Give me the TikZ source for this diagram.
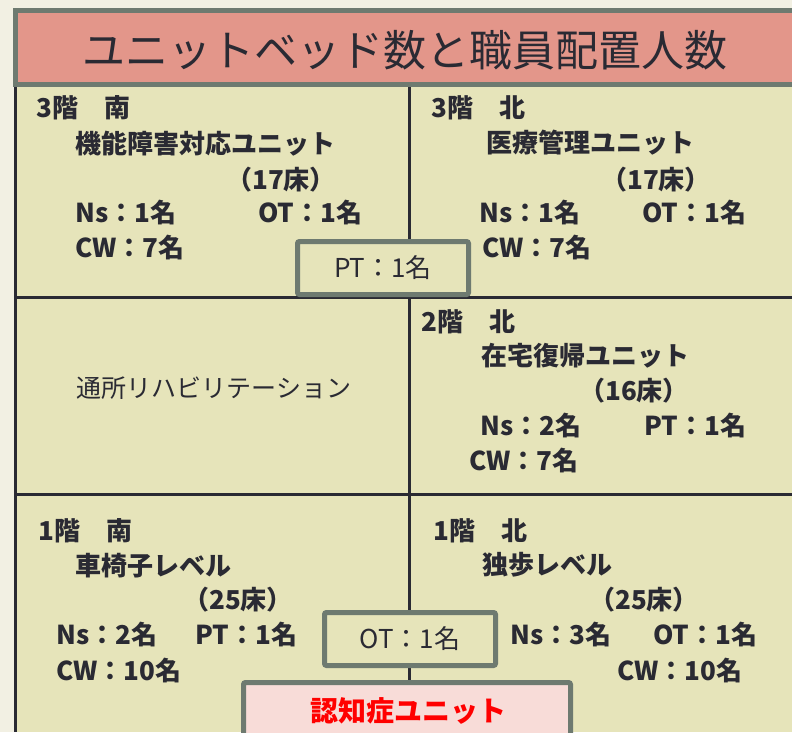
\documentclass[tikz,border=0pt]{standalone}
\usepackage{fontspec}
\setmainfont{Noto Sans CJK JP}
\definecolor{pagebg}{HTML}{F2F0E3}
\definecolor{cream}{HTML}{E6E4BA}
\definecolor{titlepink}{HTML}{E3968A}
\definecolor{boxgray}{HTML}{6E7A70}
\definecolor{lightpink}{HTML}{F8DCD8}
\definecolor{ink}{HTML}{2A2A33}
\definecolor{alertred}{HTML}{FF0000}
\tikzset{
  gridline/.style={draw=ink, line width=3pt},
  lbl/.style={font=\bfseries\fontsize{26}{28}\selectfont, text=ink, inner sep=0pt, anchor=west},
  bedlbl/.style={font=\bfseries\fontsize{26}{28}\selectfont, text=ink, inner sep=0pt, anchor=center},
  staffbox/.style={draw=boxgray, line width=5pt, fill=cream, rounded corners=2pt,
    minimum width=171pt, minimum height=53pt, inner sep=0pt,
    font=\fontsize{26}{28}\selectfont, text=ink},
  titlebox/.style={draw=boxgray, line width=5pt, fill=titlepink, inner sep=0pt,
    minimum width=784.5pt, minimum height=74pt},
}
\begin{document}
\begin{tikzpicture}[x=1pt,y=-1pt]
\useasboundingbox (0,0) rectangle (792,732);
\clip (0,0) rectangle (792,732);
\fill[pagebg] (0,0) rectangle (792,732);
\fill[cream] (15,87) rectangle (792,732);
% grid
\draw[gridline] (15.5,87) -- (15.5,732);
\draw[gridline] (15.5,297) -- (792,297);
\draw[gridline] (15.5,494) -- (792,494);
\draw[gridline] (409,87) -- (409,732);
% title
\node[titlebox] (title) at (407.75,47.5) {};
\node[font=\fontsize{43}{46}\selectfont, text=ink, inner sep=0pt] (titletext) at (405,50) {ユニットベッド数と職員配置人数};
% 3F south
\node[lbl] (s3floor) at (36,108) {3階　南};
\node[lbl] (s3name) at (75,144) {機能障害対応ユニット};
\node[bedlbl] (s3beds) at (281,180) {（17床）};
\node[lbl] (s3ns) at (75,213) {Ns：1名};
\node[lbl] (s3ot) at (258,213) {OT：1名};
\node[lbl] (s3cw) at (75,248) {CW：7名};
% 3F north
\node[lbl] (n3floor) at (431,108) {3階　北};
\node[lbl] (n3name) at (486,143) {医療管理ユニット};
\node[bedlbl] (n3beds) at (656,180) {（17床）};
\node[lbl] (n3ns) at (479,213) {Ns：1名};
\node[lbl] (n3ot) at (642,213) {OT：1名};
\node[lbl] (n3cw) at (482,248) {CW：7名};
% shared PT
\node[staffbox] (ptbox) at (383,268) {PT：1名};
% 2F
\node[font=\fontsize{25}{27}\selectfont, text=ink, inner sep=0pt] (dayrehab) at (214,388) {通所リハビリテーション};
\node[lbl] (n2floor) at (421,322) {2階　北};
\node[lbl] (n2name) at (481,356) {在宅復帰ユニット};
\node[bedlbl] (n2beds) at (634,391) {（16床）};
\node[lbl] (n2ns) at (480,426) {Ns：2名};
\node[lbl] (n2pt) at (644,426) {PT：1名};
\node[lbl] (n2cw) at (469,461) {CW：7名};
% 1F south
\node[lbl] (s1floor) at (38,531) {1階　南};
\node[lbl] (s1name) at (75,566) {車椅子レベル};
\node[bedlbl] (s1beds) at (238,600) {（25床）};
\node[lbl] (s1ns) at (56,635) {Ns：2名};
\node[lbl] (s1pt) at (195,635) {PT：1名};
\node[lbl] (s1cw) at (56,671) {CW：10名};
% 1F north
\node[lbl] (n1floor) at (433,531) {1階　北};
\node[lbl] (n1name) at (482,565) {独歩レベル};
\node[bedlbl] (n1beds) at (644,600) {（25床）};
\node[lbl] (n1ns) at (510,635) {Ns：3名};
\node[lbl] (n1ot) at (653,635) {OT：1名};
\node[lbl] (n1cw) at (617,671) {CW：10名};
% shared OT
\node[staffbox] (otbox) at (410,639) {OT：1名};
% dementia unit
\node[draw=boxgray, line width=5pt, fill=lightpink, rounded corners=2pt,
  minimum width=327pt, minimum height=80pt, inner sep=0pt] (dembox) at (407,722.5) {};
\node[font=\bfseries\fontsize{28}{30}\selectfont, text=alertred, inner sep=0pt] (demtext) at (408,711) {認知症ユニット};
\end{tikzpicture}
\end{document}
